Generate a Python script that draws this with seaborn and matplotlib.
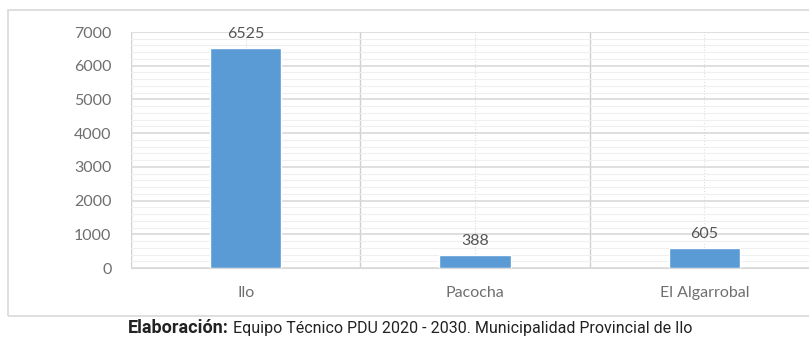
import matplotlib
matplotlib.use("Agg")
import matplotlib.pyplot as plt
from matplotlib.patches import Rectangle
from matplotlib.ticker import MultipleLocator
import pandas as pd
import seaborn as sns

# datos del grafico
distritos = ["Ilo", "Pacocha", "El Algarrobal"]
valores = [6525, 388, 605]
fuente_bold = "Elaboración:"
fuente_txt = "Equipo Técnico PDU 2020 - 2030. Municipalidad Provincial de Ilo"

df = pd.DataFrame({"distrito": distritos, "valor": valores})

sns.set_style("white")
plt.rcParams["font.family"] = ["Lato", "DejaVu Sans"]

fig = plt.figure(figsize=(8.09, 3.45), dpi=100)
ax = fig.add_axes([131 / 809, 77 / 345, 688 / 809, 236 / 345])

sns.barplot(data=df, x="distrito", y="valor", color="#5B9BD5", width=0.31,
            saturation=1, ax=ax, zorder=3)

ax.set_ylim(0, 7000)
ax.set_xlim(-0.5, 2.5)
ax.yaxis.set_major_locator(MultipleLocator(1000))
ax.yaxis.set_minor_locator(MultipleLocator(200))
ax.set_xticks([0, 1, 2])
ax.set_xticks([-0.5, 0.5, 1.5, 2.5], minor=True)
ax.grid(True, which="major", axis="y", color="#d9d9d9", lw=1.2, zorder=0)
ax.grid(True, which="minor", axis="y", color="#efefef", lw=0.8, zorder=0)
ax.grid(True, which="minor", axis="x", color="#d0d0d0", lw=1.0, zorder=0)
ax.grid(True, which="major", axis="x", color="#dddddd", lw=0.8, ls=":", zorder=0)
for s in ax.spines.values():
    s.set_visible(False)
ax.spines["bottom"].set_visible(True)
ax.spines["bottom"].set_color("#d9d9d9")
ax.tick_params(which="both", length=0)
ax.tick_params(axis="y", labelsize=11.5, labelcolor="#6f6f6f", pad=14)
ax.tick_params(axis="x", labelsize=11.5, labelcolor="#6f6f6f", pad=13)
ax.set_xlabel("")
ax.set_ylabel("")

for i, v in enumerate(valores):
    ax.annotate(str(v), (i, v), xytext=(0, 5), textcoords="offset points",
                ha="center", va="bottom", fontsize=11.5, color="#555555")

# marco del grafico
fig.patches.append(Rectangle((8 / 809, 29 / 345), 1.0, 306 / 345,
                             transform=fig.transFigure, fill=False,
                             edgecolor="#d9d9d9", lw=1.2))

fam = ["Liberation Sans Narrow", "Roboto", "DejaVu Sans"]
fig.text(229 / 809, 1 - 328 / 345, fuente_bold, ha="right", va="center",
         fontsize=13, fontweight="bold", family=fam, color="#222222")
fig.text(233 / 809, 1 - 328 / 345, fuente_txt, ha="left", va="center",
         fontsize=11.5, family=fam, color="#222222")

fig.savefig("out.png", dpi=100)
